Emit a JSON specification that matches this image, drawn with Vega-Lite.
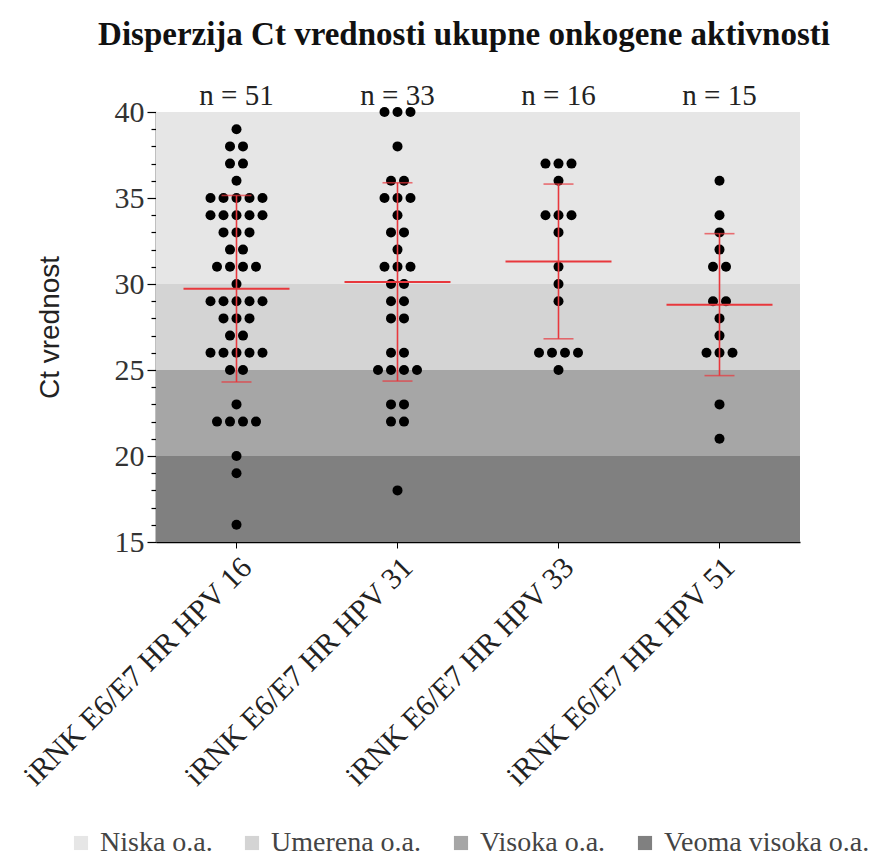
{
  "$schema": "https://vega.github.io/schema/vega-lite/v6.json",
  "width": 644,
  "height": 430,
  "padding": {"left": 17, "top": 19, "right": 5, "bottom": 5},
  "config": {"view": {"stroke": null}, "font": "Liberation Serif"},
  "title": {"text": "Disperzija Ct vrednosti ukupne onkogene aktivnosti", "font": "Liberation Serif", "fontSize": 33, "fontWeight": "bold", "color": "#111", "offset": 30, "dx": -14},
  "datasets": {
    "bands": [
      {"lvl": "Niska o.a.", "lo": 30, "hi": 40},
      {"lvl": "Umerena o.a.", "lo": 25, "hi": 30},
      {"lvl": "Visoka o.a.", "lo": 20, "hi": 25},
      {"lvl": "Veoma visoka o.a.", "lo": 15, "hi": 20}
    ],
    "points": [
      {"g": "iRNK E6/E7 HR HPV 16", "ct": 39},
      {"g": "iRNK E6/E7 HR HPV 16", "ct": 38}, {"g": "iRNK E6/E7 HR HPV 16", "ct": 38},
      {"g": "iRNK E6/E7 HR HPV 16", "ct": 37}, {"g": "iRNK E6/E7 HR HPV 16", "ct": 37},
      {"g": "iRNK E6/E7 HR HPV 16", "ct": 36},
      {"g": "iRNK E6/E7 HR HPV 16", "ct": 35}, {"g": "iRNK E6/E7 HR HPV 16", "ct": 35}, {"g": "iRNK E6/E7 HR HPV 16", "ct": 35}, {"g": "iRNK E6/E7 HR HPV 16", "ct": 35}, {"g": "iRNK E6/E7 HR HPV 16", "ct": 35},
      {"g": "iRNK E6/E7 HR HPV 16", "ct": 34}, {"g": "iRNK E6/E7 HR HPV 16", "ct": 34}, {"g": "iRNK E6/E7 HR HPV 16", "ct": 34}, {"g": "iRNK E6/E7 HR HPV 16", "ct": 34}, {"g": "iRNK E6/E7 HR HPV 16", "ct": 34},
      {"g": "iRNK E6/E7 HR HPV 16", "ct": 33}, {"g": "iRNK E6/E7 HR HPV 16", "ct": 33}, {"g": "iRNK E6/E7 HR HPV 16", "ct": 33},
      {"g": "iRNK E6/E7 HR HPV 16", "ct": 32}, {"g": "iRNK E6/E7 HR HPV 16", "ct": 32},
      {"g": "iRNK E6/E7 HR HPV 16", "ct": 31}, {"g": "iRNK E6/E7 HR HPV 16", "ct": 31}, {"g": "iRNK E6/E7 HR HPV 16", "ct": 31}, {"g": "iRNK E6/E7 HR HPV 16", "ct": 31},
      {"g": "iRNK E6/E7 HR HPV 16", "ct": 30},
      {"g": "iRNK E6/E7 HR HPV 16", "ct": 29}, {"g": "iRNK E6/E7 HR HPV 16", "ct": 29}, {"g": "iRNK E6/E7 HR HPV 16", "ct": 29}, {"g": "iRNK E6/E7 HR HPV 16", "ct": 29}, {"g": "iRNK E6/E7 HR HPV 16", "ct": 29},
      {"g": "iRNK E6/E7 HR HPV 16", "ct": 28}, {"g": "iRNK E6/E7 HR HPV 16", "ct": 28}, {"g": "iRNK E6/E7 HR HPV 16", "ct": 28},
      {"g": "iRNK E6/E7 HR HPV 16", "ct": 27}, {"g": "iRNK E6/E7 HR HPV 16", "ct": 27},
      {"g": "iRNK E6/E7 HR HPV 16", "ct": 26}, {"g": "iRNK E6/E7 HR HPV 16", "ct": 26}, {"g": "iRNK E6/E7 HR HPV 16", "ct": 26}, {"g": "iRNK E6/E7 HR HPV 16", "ct": 26}, {"g": "iRNK E6/E7 HR HPV 16", "ct": 26},
      {"g": "iRNK E6/E7 HR HPV 16", "ct": 25}, {"g": "iRNK E6/E7 HR HPV 16", "ct": 25},
      {"g": "iRNK E6/E7 HR HPV 16", "ct": 23},
      {"g": "iRNK E6/E7 HR HPV 16", "ct": 22}, {"g": "iRNK E6/E7 HR HPV 16", "ct": 22}, {"g": "iRNK E6/E7 HR HPV 16", "ct": 22}, {"g": "iRNK E6/E7 HR HPV 16", "ct": 22},
      {"g": "iRNK E6/E7 HR HPV 16", "ct": 20},
      {"g": "iRNK E6/E7 HR HPV 16", "ct": 19},
      {"g": "iRNK E6/E7 HR HPV 16", "ct": 16},
      {"g": "iRNK E6/E7 HR HPV 31", "ct": 40}, {"g": "iRNK E6/E7 HR HPV 31", "ct": 40}, {"g": "iRNK E6/E7 HR HPV 31", "ct": 40},
      {"g": "iRNK E6/E7 HR HPV 31", "ct": 38},
      {"g": "iRNK E6/E7 HR HPV 31", "ct": 36}, {"g": "iRNK E6/E7 HR HPV 31", "ct": 36},
      {"g": "iRNK E6/E7 HR HPV 31", "ct": 35}, {"g": "iRNK E6/E7 HR HPV 31", "ct": 35}, {"g": "iRNK E6/E7 HR HPV 31", "ct": 35},
      {"g": "iRNK E6/E7 HR HPV 31", "ct": 34},
      {"g": "iRNK E6/E7 HR HPV 31", "ct": 33}, {"g": "iRNK E6/E7 HR HPV 31", "ct": 33},
      {"g": "iRNK E6/E7 HR HPV 31", "ct": 32},
      {"g": "iRNK E6/E7 HR HPV 31", "ct": 31}, {"g": "iRNK E6/E7 HR HPV 31", "ct": 31}, {"g": "iRNK E6/E7 HR HPV 31", "ct": 31},
      {"g": "iRNK E6/E7 HR HPV 31", "ct": 30}, {"g": "iRNK E6/E7 HR HPV 31", "ct": 30},
      {"g": "iRNK E6/E7 HR HPV 31", "ct": 29}, {"g": "iRNK E6/E7 HR HPV 31", "ct": 29},
      {"g": "iRNK E6/E7 HR HPV 31", "ct": 28}, {"g": "iRNK E6/E7 HR HPV 31", "ct": 28},
      {"g": "iRNK E6/E7 HR HPV 31", "ct": 26}, {"g": "iRNK E6/E7 HR HPV 31", "ct": 26},
      {"g": "iRNK E6/E7 HR HPV 31", "ct": 25}, {"g": "iRNK E6/E7 HR HPV 31", "ct": 25}, {"g": "iRNK E6/E7 HR HPV 31", "ct": 25}, {"g": "iRNK E6/E7 HR HPV 31", "ct": 25},
      {"g": "iRNK E6/E7 HR HPV 31", "ct": 23}, {"g": "iRNK E6/E7 HR HPV 31", "ct": 23},
      {"g": "iRNK E6/E7 HR HPV 31", "ct": 22}, {"g": "iRNK E6/E7 HR HPV 31", "ct": 22},
      {"g": "iRNK E6/E7 HR HPV 31", "ct": 18},
      {"g": "iRNK E6/E7 HR HPV 33", "ct": 37}, {"g": "iRNK E6/E7 HR HPV 33", "ct": 37}, {"g": "iRNK E6/E7 HR HPV 33", "ct": 37},
      {"g": "iRNK E6/E7 HR HPV 33", "ct": 36},
      {"g": "iRNK E6/E7 HR HPV 33", "ct": 34}, {"g": "iRNK E6/E7 HR HPV 33", "ct": 34}, {"g": "iRNK E6/E7 HR HPV 33", "ct": 34},
      {"g": "iRNK E6/E7 HR HPV 33", "ct": 33},
      {"g": "iRNK E6/E7 HR HPV 33", "ct": 31},
      {"g": "iRNK E6/E7 HR HPV 33", "ct": 30},
      {"g": "iRNK E6/E7 HR HPV 33", "ct": 29},
      {"g": "iRNK E6/E7 HR HPV 33", "ct": 26}, {"g": "iRNK E6/E7 HR HPV 33", "ct": 26}, {"g": "iRNK E6/E7 HR HPV 33", "ct": 26}, {"g": "iRNK E6/E7 HR HPV 33", "ct": 26},
      {"g": "iRNK E6/E7 HR HPV 33", "ct": 25},
      {"g": "iRNK E6/E7 HR HPV 51", "ct": 36},
      {"g": "iRNK E6/E7 HR HPV 51", "ct": 34},
      {"g": "iRNK E6/E7 HR HPV 51", "ct": 33},
      {"g": "iRNK E6/E7 HR HPV 51", "ct": 32},
      {"g": "iRNK E6/E7 HR HPV 51", "ct": 31}, {"g": "iRNK E6/E7 HR HPV 51", "ct": 31},
      {"g": "iRNK E6/E7 HR HPV 51", "ct": 29}, {"g": "iRNK E6/E7 HR HPV 51", "ct": 29},
      {"g": "iRNK E6/E7 HR HPV 51", "ct": 28},
      {"g": "iRNK E6/E7 HR HPV 51", "ct": 27},
      {"g": "iRNK E6/E7 HR HPV 51", "ct": 26}, {"g": "iRNK E6/E7 HR HPV 51", "ct": 26}, {"g": "iRNK E6/E7 HR HPV 51", "ct": 26},
      {"g": "iRNK E6/E7 HR HPV 51", "ct": 23},
      {"g": "iRNK E6/E7 HR HPV 51", "ct": 21}
    ]
  },
  "layer": [
    {
      "data": {"name": "bands"},
      "mark": {"type": "rect"},
      "encoding": {
        "y": {
          "field": "lo", "type": "quantitative", "title": "Ct vrednost",
          "scale": {"domain": [15, 40], "nice": false, "zero": false},
          "axis": {
            "title": "Ct vrednost",
            "titleFont": "Liberation Sans", "titleFontSize": 28, "titleFontWeight": "normal", "titleColor": "#222",
            "titlePadding": 50,
            "values": [15,16,17,18,19,20,21,22,23,24,25,26,27,28,29,30,31,32,33,34,35,36,37,38,39,40],
            "tickCount": 30,
            "labelExpr": "datum.value % 5 === 0 ? datum.label : ''",
            "labelOverlap": false,
            "tickSize": {"condition": {"test": "datum.value % 5 === 0", "value": 9}, "value": 5},
            "labelFont": "Liberation Serif", "labelFontSize": 30, "labelColor": "#333", "labelPadding": 3,
            "domainColor": "#000", "domainWidth": 1.5, "tickColor": "#000", "tickWidth": 1.2, "grid": false
          }
        },
        "y2": {"field": "hi"},
        "color": {
          "field": "lvl", "type": "nominal",
          "scale": {"domain": ["Niska o.a.", "Umerena o.a.", "Visoka o.a.", "Veoma visoka o.a."], "range": ["#e6e6e6", "#d4d4d4", "#a6a6a6", "#808080"]},
          "legend": {
            "title": null, "orient": "none", "direction": "horizontal", "legendX": -89, "legendY": 717,
            "symbolType": "square", "symbolSize": 200, "symbolStrokeWidth": 0,
            "labelFont": "Liberation Serif", "labelFontSize": 28, "labelColor": "#444", "labelOffset": 5,
            "labelLimit": 400, "columnPadding": 25
          }
        }
      }
    },
    {
      "data": {"name": "points"},
      "transform": [
        {"window": [{"op": "row_number", "as": "rk"}], "groupby": ["g", "ct"]},
        {"joinaggregate": [{"op": "count", "as": "cnt"}], "groupby": ["g", "ct"]},
        {"calculate": "datum.rk - (datum.cnt + 1) / 2", "as": "off"}
      ],
      "mark": {"type": "circle", "size": 100, "color": "#000", "opacity": 1},
      "encoding": {
        "x": {"field": "g", "type": "nominal", "scale": {"paddingInner": 0, "paddingOuter": 0}, "axis": {"title": null, "labelAngle": -45, "labelFont": "Liberation Serif", "labelFontSize": 30, "labelColor": "#222", "labelLimit": 500, "domainColor": "#000", "domainWidth": 1.5, "tickColor": "#000", "tickSize": 6, "labelPadding": 4}},
        "xOffset": {"field": "off", "type": "quantitative", "scale": {"domain": [-4, 4], "range": [28.5, 132.5]}},
        "y": {"field": "ct", "type": "quantitative", "title": "Ct vrednost"}
      }
    },
    {
      "data": {"name": "points"},
      "mark": {"type": "errorbar", "extent": "stdev", "color": "#e8383d", "thickness": 1.6, "ticks": {"size": 30, "thickness": 1.6, "color": "#e8383d"}},
      "encoding": {
        "x": {"field": "g", "type": "nominal"},
        "y": {"field": "ct", "type": "quantitative", "title": "Ct vrednost"}
      }
    },
    {
      "data": {"name": "points"},
      "mark": {"type": "tick", "color": "#e8383d", "size": 106, "thickness": 2, "opacity": 1},
      "encoding": {
        "x": {"field": "g", "type": "nominal"},
        "y": {"field": "ct", "type": "quantitative", "aggregate": "mean", "title": "Ct vrednost"}
      }
    },
    {
      "data": {"name": "points"},
      "transform": [
        {"aggregate": [{"op": "count", "as": "n"}], "groupby": ["g"]},
        {"calculate": "'n = ' + datum.n", "as": "lab"}
      ],
      "mark": {"type": "text", "font": "Liberation Serif", "fontSize": 29, "color": "#222", "baseline": "alphabetic", "dy": -7},
      "encoding": {
        "x": {"field": "g", "type": "nominal"},
        "y": {"datum": 40, "title": "Ct vrednost"},
        "text": {"field": "lab"}
      }
    }
  ]
}
